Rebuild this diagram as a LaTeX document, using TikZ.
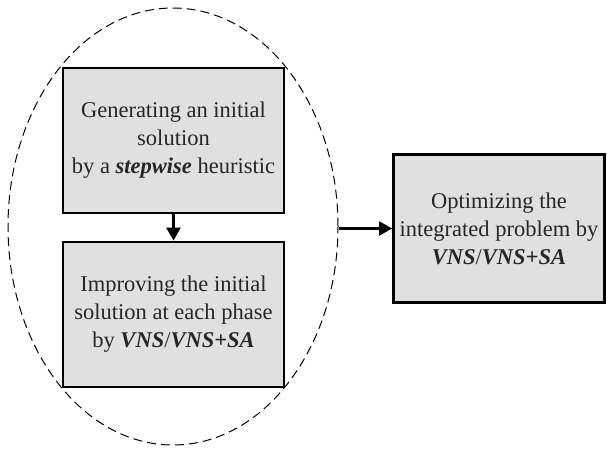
\documentclass[tikz,border=0pt]{standalone}
\usepackage{fontspec}
\setmainfont{Liberation Serif}
\usepackage{tikz}
\usetikzlibrary{arrows.meta,shapes.geometric}

\begin{document}
\begin{tikzpicture}[x=1pt,y=-1pt,
	phase/.style={draw,line width=2.8pt,fill=black!12,align=center,inner sep=0pt,
		text=black!85,font=\fontsize{22.5}{28}\selectfont},
	flow/.style={line width=2.4pt,-{Triangle[length=13pt,width=14pt]}}]
	\useasboundingbox (0,0) rectangle (607,448);
	\node [draw,dash pattern=on 9pt off 5pt,line width=1pt,ellipse,minimum width=330pt,minimum height=437pt,inner sep=0pt] (oval) at (173,226.5) {};
	\node [phase,minimum width=221pt,minimum height=145pt] (init) at (173.5,140.5) {Generating an initial\\solution\\by a \textbf{\textit{stepwise}} heuristic};
	\node [phase,minimum width=221pt,minimum height=145pt] (improve) at (173.5,314.5) {Improving the initial\\solution at each phase\\by \textbf{\textit{VNS}}/\textbf{\textit{VNS+SA}}};
	\node [phase,minimum width=211pt,minimum height=148pt] (integrated) at (499,228.5) {Optimizing the\\integrated problem by\\\textbf{\textit{VNS}}/\textbf{\textit{VNS+SA}}};
	\draw [flow] (init) -- (improve);
	\draw [flow] (oval.east |- integrated.west) -- (integrated);
\end{tikzpicture}
\end{document}
